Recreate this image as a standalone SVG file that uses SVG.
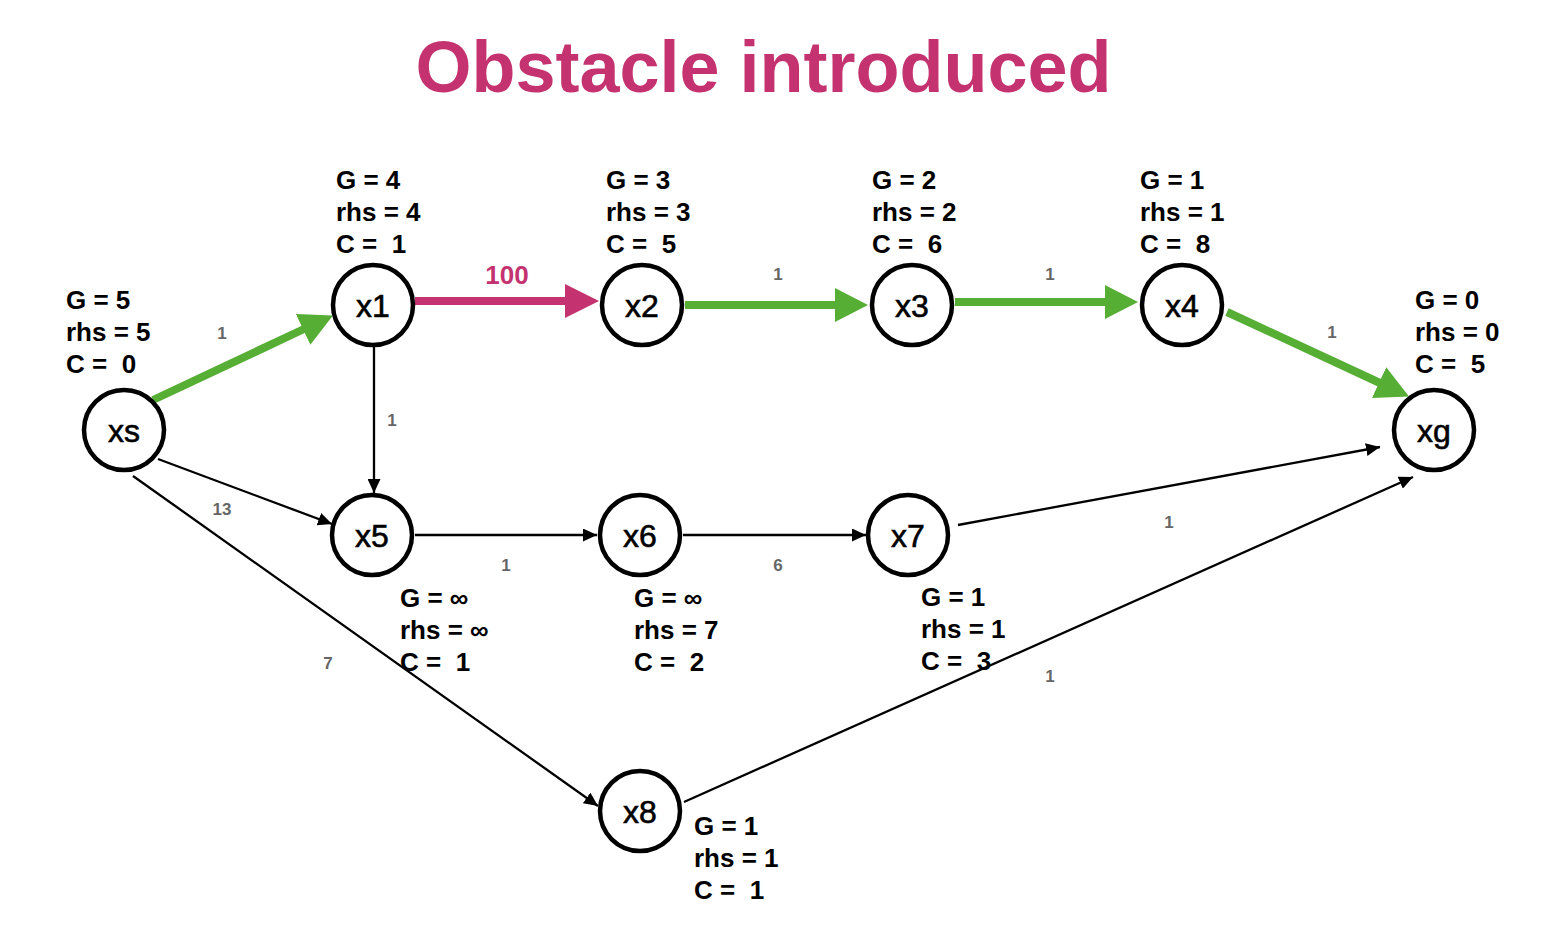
<svg xmlns="http://www.w3.org/2000/svg" width="1544" height="952" viewBox="0 0 1544 952">
<style>
.title{font-family:"Liberation Sans",Arial,sans-serif;font-weight:bold;font-size:72px;fill:#C4336F}
.node circle{fill:#fff;stroke:#000;stroke-width:4.5}
.nt{font-family:"Liberation Sans",Arial,sans-serif;font-size:32px;fill:#000;stroke:#000;stroke-width:0.6;text-anchor:middle}
.lab{font-family:"Liberation Sans",Arial,sans-serif;font-weight:bold;font-size:26px;fill:#000;white-space:pre}
.el{font-family:"Liberation Sans",Arial,sans-serif;font-weight:bold;font-size:17px;fill:#666;text-anchor:middle}
.ml{font-family:"Liberation Sans",Arial,sans-serif;font-weight:bold;font-size:26px;fill:#C4336F;text-anchor:middle}
.thin{stroke:#000;stroke-width:2.3;fill:none;marker-end:url(#ah)}
.green{stroke:#56AE35;stroke-width:8;fill:none;marker-end:url(#ag)}
.mag{stroke:#C4336F;stroke-width:8;fill:none;marker-end:url(#am)}
</style>
<defs>
<marker id="ah" markerUnits="userSpaceOnUse" markerWidth="15" markerHeight="13" refX="14" refY="6.5" orient="auto"><path d="M0,0 L14,6.5 L0,13 z" fill="#000"/></marker>
<marker id="ag" markerUnits="userSpaceOnUse" markerWidth="36" markerHeight="36" refX="1" refY="17" orient="auto"><path d="M0,0 L33,17 L0,34 z" fill="#56AE35"/></marker>
<marker id="am" markerUnits="userSpaceOnUse" markerWidth="36" markerHeight="36" refX="1" refY="17" orient="auto"><path d="M0,0 L34,17 L0,34 z" fill="#C4336F"/></marker>
</defs>
<rect width="1544" height="952" fill="#fff"/>
<text class="title" x="763.5" y="92" text-anchor="middle">Obstacle introduced</text>

<g id="connectors">
<line class="green" x1="153" y1="400" x2="304" y2="329"/>
<line class="mag" x1="415" y1="301" x2="566" y2="301"/>
<line class="green" x1="685" y1="305" x2="836" y2="305"/>
<line class="green" x1="955" y1="302" x2="1106" y2="302"/>
<line class="green" x1="1227" y1="312" x2="1380" y2="383"/>
<line class="thin" x1="374" y1="347" x2="374" y2="493"/>
<line class="thin" x1="158" y1="459" x2="332" y2="524"/>
<line class="thin" x1="133" y1="476" x2="598" y2="806"/>
<line class="thin" x1="415" y1="535" x2="597" y2="535"/>
<line class="thin" x1="683" y1="535" x2="866" y2="535"/>
<line class="thin" x1="958" y1="525" x2="1380" y2="447"/>
<line class="thin" x1="684" y1="802" x2="1413" y2="477"/>
<text class="el" x="222" y="339">1</text>
<text class="ml" x="507" y="284">100</text>
<text class="el" x="778" y="280">1</text>
<text class="el" x="1050" y="280">1</text>
<text class="el" x="1332" y="338">1</text>
<text class="el" x="392" y="426">1</text>
<text class="el" x="222" y="515">13</text>
<text class="el" x="506" y="571">1</text>
<text class="el" x="778" y="571">6</text>
<text class="el" x="1169" y="528">1</text>
<text class="el" x="328" y="669">7</text>
<text class="el" x="1050" y="682">1</text>
</g>

<g id="node-xs" class="node">
<circle cx="124" cy="430" r="40"/>
<text class="nt" x="124" y="442">xs</text>
<text class="lab" x="66" y="309">G = 5</text>
<text class="lab" x="66" y="341">rhs = 5</text>
<text class="lab" x="66" y="373">C =  0</text>
</g>
<g id="node-x1" class="node">
<circle cx="373" cy="305" r="40"/>
<text class="nt" x="373" y="317">x1</text>
<text class="lab" x="336" y="189">G = 4</text>
<text class="lab" x="336" y="221">rhs = 4</text>
<text class="lab" x="336" y="253">C =  1</text>
</g>
<g id="node-x2" class="node">
<circle cx="642" cy="305" r="40"/>
<text class="nt" x="642" y="317">x2</text>
<text class="lab" x="606" y="189">G = 3</text>
<text class="lab" x="606" y="221">rhs = 3</text>
<text class="lab" x="606" y="253">C =  5</text>
</g>
<g id="node-x3" class="node">
<circle cx="912" cy="305" r="40"/>
<text class="nt" x="912" y="317">x3</text>
<text class="lab" x="872" y="189">G = 2</text>
<text class="lab" x="872" y="221">rhs = 2</text>
<text class="lab" x="872" y="253">C =  6</text>
</g>
<g id="node-x4" class="node">
<circle cx="1182" cy="305" r="40"/>
<text class="nt" x="1182" y="317">x4</text>
<text class="lab" x="1140" y="189">G = 1</text>
<text class="lab" x="1140" y="221">rhs = 1</text>
<text class="lab" x="1140" y="253">C =  8</text>
</g>
<g id="node-xg" class="node">
<circle cx="1434" cy="430" r="40"/>
<text class="nt" x="1434" y="442">xg</text>
<text class="lab" x="1415" y="309">G = 0</text>
<text class="lab" x="1415" y="341">rhs = 0</text>
<text class="lab" x="1415" y="373">C =  5</text>
</g>
<g id="node-x5" class="node">
<circle cx="372" cy="535" r="40"/>
<text class="nt" x="372" y="547">x5</text>
<text class="lab" x="400" y="607">G = ∞</text>
<text class="lab" x="400" y="639">rhs = ∞</text>
<text class="lab" x="400" y="671">C =  1</text>
</g>
<g id="node-x6" class="node">
<circle cx="640" cy="535" r="40"/>
<text class="nt" x="640" y="547">x6</text>
<text class="lab" x="634" y="607">G = ∞</text>
<text class="lab" x="634" y="639">rhs = 7</text>
<text class="lab" x="634" y="671">C =  2</text>
</g>
<g id="node-x7" class="node">
<circle cx="908" cy="535" r="40"/>
<text class="nt" x="908" y="547">x7</text>
<text class="lab" x="921" y="606">G = 1</text>
<text class="lab" x="921" y="638">rhs = 1</text>
<text class="lab" x="921" y="670">C =  3</text>
</g>
<g id="node-x8" class="node">
<circle cx="640" cy="811" r="40"/>
<text class="nt" x="640" y="823">x8</text>
<text class="lab" x="694" y="835">G = 1</text>
<text class="lab" x="694" y="867">rhs = 1</text>
<text class="lab" x="694" y="899">C =  1</text>
</g>
</svg>
